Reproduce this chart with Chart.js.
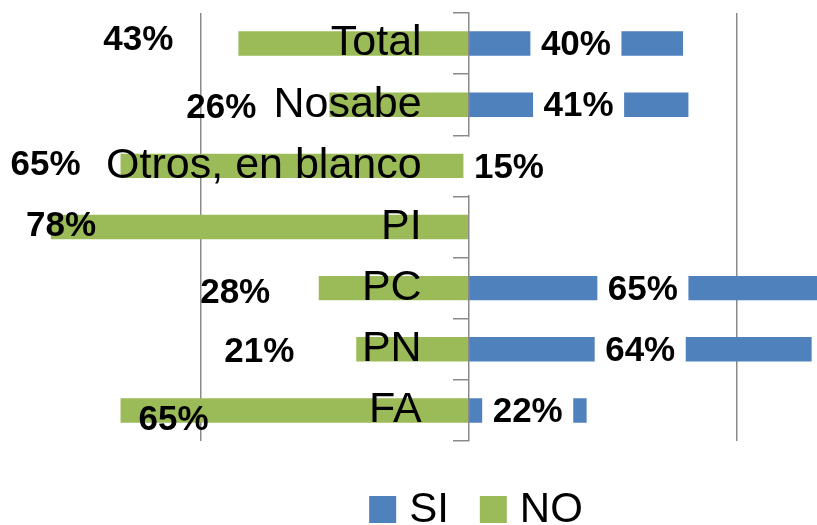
<!DOCTYPE html>
<html>
<head>
<meta charset="utf-8">
<script src="https://cdn.jsdelivr.net/npm/chart.js@4"></script>
<style>
  html, body { margin: 0; padding: 0; background: #fff; }
  #wrap { width: 817px; height: 525px; }
</style>
</head>
<body>
<div id="wrap"><canvas id="chart1"></canvas></div>
<script>
var categories = ['Total', 'Nosabe', 'Otros, en blanco', 'PI', 'PC', 'PN', 'FA'];
var siValues = [40, 41, 15, 0, 65, 64, 22];
var noValues = [43, 26, 65, 78, 28, 21, 65];
var gridTicks = [-50, 50];

// where the NO labels sit (in axis units) plus a small vertical nudge (px)
var noLabelAt = [-61.7, -46.2, -79, -76.1, -43.6, -39.1, -55.1];
var noLabelDy = [-3, 4, -1, -1, 5, 3, 10];

var blue = '#4F81BD';
var green = '#9BBB59';
var axisGray = '#8a8a8a';

var noPad = function(axis) {
  axis.paddingTop = 0;
  axis.paddingBottom = 0;
};

var labelsPlugin = {
  id: 'valueLabels',
  afterDraw: function(chart) {
    var ctx = chart.ctx;
    var xs = chart.scales.x, ys = chart.scales.y;
    var rowH = Math.abs(ys.getPixelForValue(1) - ys.getPixelForValue(0));
    ctx.save();
    ctx.font = 'bold 35px "Liberation Sans"';
    ctx.textAlign = 'center';
    ctx.textBaseline = 'middle';

    // SI labels sit in the middle of the bar on a white box
    chart.getDatasetMeta(0).data.forEach(function(bar, i) {
      if (!siValues[i]) return;
      var t = siValues[i] + '%';
      var w = ctx.measureText(t).width + 21;
      var cx = (bar.x + bar.base) / 2;
      ctx.fillStyle = '#fff';
      ctx.fillRect(cx - w / 2, bar.y - rowH / 2 + 1.5, w, rowH - 3);
      ctx.fillStyle = '#000';
      ctx.fillText(t, cx, bar.y + 2);
    });

    // NO labels
    chart.getDatasetMeta(1).data.forEach(function(bar, i) {
      ctx.fillStyle = '#000';
      ctx.fillText(noValues[i] + '%', xs.getPixelForValue(noLabelAt[i]), bar.y + noLabelDy[i]);
    });

    // legend
    ctx.font = '42px "Liberation Sans"';
    ctx.textAlign = 'left';
    var sets = chart.data.datasets;
    var widths = sets.map(function(d) { return ctx.measureText(d.label).width; });
    var total = 0;
    widths.forEach(function(w, i) { total += 27 + 13 + w + (i ? 0 : 31); });
    var lx = 476 - total / 2, ly = 509.5;
    sets.forEach(function(d, i) {
      ctx.fillStyle = d.backgroundColor;
      ctx.fillRect(lx, ly - 13.5, 27, 27);
      lx += 40;
      ctx.fillStyle = '#000';
      ctx.fillText(d.label, lx, ly + 1);
      lx += widths[i] + 31;
    });
    ctx.restore();
  }
};

var config = {
  type: 'bar',
  data: {
    labels: categories,
    datasets: [
      { label: 'SI', data: siValues, backgroundColor: blue },
      { label: 'NO', data: noValues.map(function(v) { return -v; }), backgroundColor: green }
    ]
  },
  options: {
    indexAxis: 'y',
    responsive: true,
    maintainAspectRatio: false,
    animation: false,
    datasets: { bar: { barPercentage: 0.4, categoryPercentage: 1 } },
    layout: { padding: { top: 13, bottom: 84, left: 0, right: 0 } },
    plugins: { legend: { display: false }, tooltip: { enabled: false } },
    scales: {
      x: {
        stacked: true,
        min: -87.5,
        max: 65,
        afterBuildTicks: function(axis) {
          axis.ticks = gridTicks.map(function(v) { return { value: v }; });
        },
        ticks: { display: false },
        border: { display: false },
        grid: { color: axisGray, lineWidth: 1.5, drawTicks: false }
      },
      // the axis line with its tick marks, at zero
      y: {
        stacked: true,
        position: { x: 0 },
        afterFit: noPad,
        border: { color: axisGray, width: 1.5, z: 1 },
        grid: { drawOnChartArea: false, color: axisGray, lineWidth: 1.5, tickLength: 15, z: 1 },
        ticks: { display: false }
      },
      // category names, right-aligned a little left of the axis line
      yNames: {
        type: 'category',
        axis: 'y',
        offset: true,
        position: { x: -8.8 },
        afterFit: noPad,
        border: { display: false },
        grid: { display: false },
        ticks: {
          z: 1,
          autoSkip: false,
          color: '#000',
          font: { family: 'Liberation Sans', size: 43 }
        }
      }
    }
  },
  plugins: [labelsPlugin]
};

var myChart = new Chart(document.getElementById('chart1'), config);
</script>
</body>
</html>
